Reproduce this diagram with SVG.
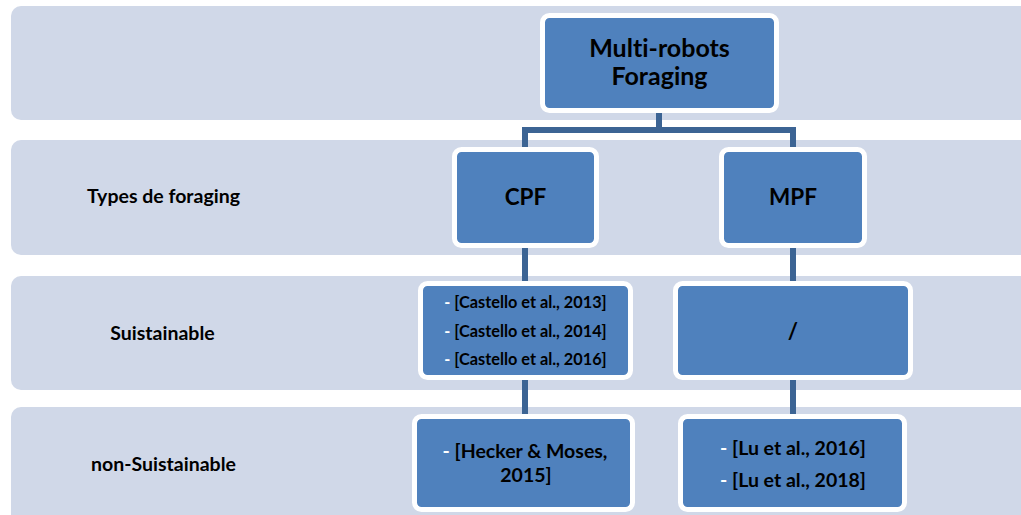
<svg xmlns="http://www.w3.org/2000/svg" width="1021" height="515" viewBox="0 0 1021 515">
  <style>
    .band { fill: #D0D8E8; }
    .box { fill: #4F81BD; stroke: #FFFFFF; stroke-width: 5; }
    .link { fill: none; stroke: #3C6494; stroke-width: 6; stroke-linejoin: miter; }
    text { font-family: Lato, "Open Sans", "Liberation Sans", sans-serif; font-weight: bold; fill: #000000; text-anchor: middle; font-variant-ligatures: none; }
    .row { font-size: 19.5px; }
    .dash { fill: #FFFFFF; }
  </style>
  <rect width="1021" height="515" fill="#FFFFFF"/>

  <!-- background rows -->
  <g id="rows">
    <rect class="band" x="11" y="6" width="1030" height="114" rx="10"/>
    <rect class="band" x="11" y="140" width="1030" height="115" rx="10"/>
    <rect class="band" x="11" y="276" width="1030" height="114" rx="10"/>
    <rect class="band" x="11" y="407" width="1030" height="120" rx="10"/>
    <text class="row" x="163.5" y="203">Types de foraging</text>
    <text class="row" x="162.5" y="340">Suistainable</text>
    <text class="row" x="163.5" y="471">non-Suistainable</text>
  </g>

  <!-- tree connectors -->
  <g id="connectors">
    <path class="link" d="M659,111 V130"/>
    <path class="link" d="M525,149 V130 H793 V149"/>
    <path class="link" d="M525,248 V283"/>
    <path class="link" d="M793,248 V283"/>
    <path class="link" d="M525,380 V416"/>
    <path class="link" d="M793,380 V416"/>
  </g>

  <g id="root">
    <rect class="box" x="542.5" y="15.5" width="234" height="95" rx="7"/>
    <text x="659.5" y="57" font-size="25">Multi-robots</text>
    <text x="659.5" y="85" font-size="25">Foraging</text>
  </g>

  <g id="cpf">
    <rect class="box" x="454.5" y="149.5" width="142" height="96" rx="7"/>
    <text x="525.5" y="205" font-size="22.5">CPF</text>
  </g>

  <g id="mpf">
    <rect class="box" x="721.5" y="149.5" width="143" height="96" rx="7"/>
    <text x="793" y="205" font-size="22.5">MPF</text>
  </g>

  <g id="cpf-sustainable">
    <rect class="box" x="420.5" y="283.5" width="210" height="94" rx="7"/>
    <text x="525.5" y="308" font-size="16.3"><tspan class="dash">- </tspan>[Castello et al., 2013]</text>
    <text x="525.5" y="337" font-size="16.3"><tspan class="dash">- </tspan>[Castello et al., 2014]</text>
    <text x="525.5" y="365" font-size="16.3"><tspan class="dash">- </tspan>[Castello et al., 2016]</text>
  </g>

  <g id="mpf-sustainable">
    <rect class="box" x="675.5" y="283.5" width="235" height="94" rx="7"/>
    <text x="793" y="339" font-size="22">/</text>
  </g>

  <g id="cpf-non-sustainable">
    <rect class="box" x="414.5" y="416.5" width="218" height="93" rx="7"/>
    <text x="525" y="458" font-size="19.5"><tspan class="dash">- </tspan>[Hecker &amp; Moses,</text>
    <text x="526" y="482" font-size="19.5">2015]</text>
  </g>

  <g id="mpf-non-sustainable">
    <rect class="box" x="680.5" y="416.5" width="224" height="93" rx="7"/>
    <text x="793" y="455" font-size="19.5"><tspan class="dash">- </tspan>[Lu et al., 2016]</text>
    <text x="793" y="487" font-size="19.5"><tspan class="dash">- </tspan>[Lu et al., 2018]</text>
  </g>
</svg>
